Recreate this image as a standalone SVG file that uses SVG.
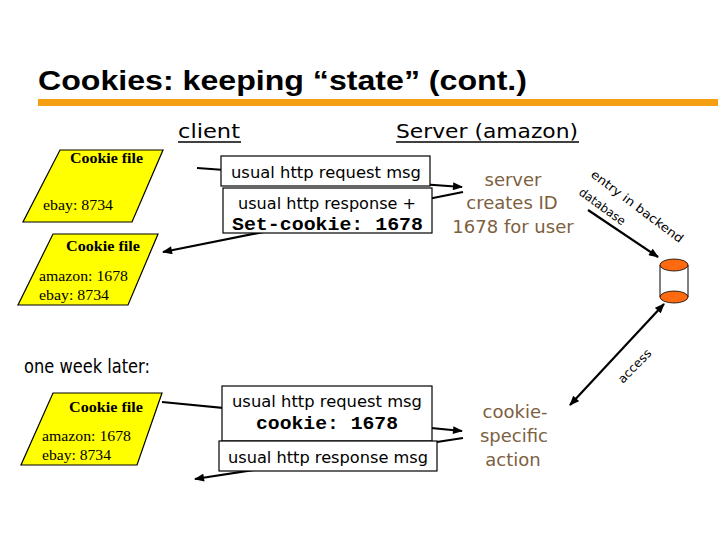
<svg xmlns="http://www.w3.org/2000/svg" width="720" height="540" viewBox="0 0 720 540">
<defs>
<style>
.cf{fill:#ffff00;stroke:#000;stroke-width:1.2}
.cft{font-family:"Liberation Serif",serif;font-weight:bold;font-size:15px}
.cfv{font-family:"Liberation Serif",serif;font-size:15px}
.box{fill:#fff;stroke:#000;stroke-width:1.2}
.bt{font-family:"DejaVu Sans","Noto Sans",sans-serif;font-size:15px;fill:#000}
.mono{font-family:"Liberation Mono",monospace;font-weight:bold;font-size:18px;fill:#000}
.srv{font-family:"DejaVu Sans","Noto Sans",sans-serif;font-size:18px;fill:#7d6040;text-anchor:middle}
.hd{font-family:"DejaVu Sans","Noto Sans",sans-serif;font-size:20px;fill:#000}
.sm{font-family:"DejaVu Sans","Noto Sans",sans-serif;font-size:12px;fill:#000}
.ln{stroke:#000;stroke-width:2.2;fill:none}
</style>
<marker id="ah" viewBox="0 0 10 8" refX="9" refY="4" markerWidth="11" markerHeight="8" markerUnits="userSpaceOnUse" orient="auto-start-reverse">
<path d="M0,0 L10,4 L0,8 z" fill="#000"/>
</marker>
</defs>
<rect width="720" height="540" fill="#fff"/>

<g id="title">
<text x="38" y="90" font-family="Liberation Sans, sans-serif" font-weight="bold" font-size="27" textLength="489" lengthAdjust="spacingAndGlyphs">Cookies: keeping “state” (cont.)</text>
<rect x="38" y="99" width="680" height="7" fill="#f4a012"/>
</g>

<g id="headers">
<text class="hd" x="178" y="138" textLength="62" lengthAdjust="spacingAndGlyphs">client</text>
<line x1="178" y1="142" x2="241" y2="142" stroke="#000" stroke-width="1.5"/>
<text class="hd" x="396" y="138" textLength="182" lengthAdjust="spacingAndGlyphs">Server (amazon)</text>
<line x1="396" y1="142" x2="579" y2="142" stroke="#000" stroke-width="1.5"/>
<text class="hd" x="24" y="373" font-size="17" textLength="126" lengthAdjust="spacingAndGlyphs">one week later:</text>
</g>

<g id="connectors">
<line class="ln" x1="197" y1="168" x2="462" y2="187" marker-end="url(#ah)"/>
<line class="ln" x1="463" y1="192" x2="163" y2="252" marker-end="url(#ah)"/>
<line class="ln" x1="162" y1="402" x2="462" y2="431" marker-end="url(#ah)"/>
<line class="ln" x1="463" y1="438" x2="195" y2="479" marker-end="url(#ah)"/>
<line class="ln" x1="588" y1="210" x2="658" y2="257" marker-end="url(#ah)"/>
<line class="ln" x1="570" y1="405" x2="664" y2="304" marker-start="url(#ah)" marker-end="url(#ah)"/>
</g>

<g id="cookiefile1">
<polygon class="cf" points="60,150 163,150 132,222 23,222"/>
<text class="cft" x="70" y="163" textLength="73" lengthAdjust="spacingAndGlyphs">Cookie file</text>
<text class="cfv" x="43" y="210" textLength="70" lengthAdjust="spacingAndGlyphs">ebay: 8734</text>
</g>

<g id="cookiefile2">
<polygon class="cf" points="53,234 158,234 128,305 18,305"/>
<text class="cft" x="66" y="251" textLength="74" lengthAdjust="spacingAndGlyphs">Cookie file</text>
<text class="cfv" x="39" y="281" textLength="89" lengthAdjust="spacingAndGlyphs">amazon: 1678</text>
<text class="cfv" x="39" y="300" textLength="70" lengthAdjust="spacingAndGlyphs">ebay: 8734</text>
</g>

<g id="cookiefile3">
<polygon class="cf" points="53,393 162,393 137,465 21,465"/>
<text class="cft" x="69" y="412" textLength="74" lengthAdjust="spacingAndGlyphs">Cookie file</text>
<text class="cfv" x="42" y="441" textLength="89" lengthAdjust="spacingAndGlyphs">amazon: 1678</text>
<text class="cfv" x="42" y="460" textLength="69" lengthAdjust="spacingAndGlyphs">ebay: 8734</text>
</g>

<g id="request1">
<rect class="box" x="221" y="156" width="209" height="30"/>
<text class="bt" x="231" y="178" textLength="190" lengthAdjust="spacingAndGlyphs">usual http request msg</text>
</g>

<g id="response1">
<rect class="box" x="223" y="188" width="209" height="45"/>
<text class="bt" x="238" y="209" textLength="178" lengthAdjust="spacingAndGlyphs">usual http response +</text>
<text class="mono" x="232" y="230" textLength="191" lengthAdjust="spacingAndGlyphs">Set-cookie: 1678</text>
</g>

<g id="request2">
<rect class="box" x="222" y="386" width="210" height="55"/>
<text class="bt" x="232" y="407" textLength="190" lengthAdjust="spacingAndGlyphs">usual http request msg</text>
<text class="mono" x="256" y="429" textLength="142" lengthAdjust="spacingAndGlyphs">cookie: 1678</text>
</g>

<g id="response2">
<rect class="box" x="219" y="441" width="218" height="30"/>
<text class="bt" x="228" y="463" textLength="200" lengthAdjust="spacingAndGlyphs">usual http response msg</text>
</g>

<g id="server-action1">
<text class="srv" x="513" y="186">server</text>
<text class="srv" x="512" y="209">creates ID</text>
<text class="srv" x="513" y="233">1678 for user</text>
</g>

<g id="server-action2">
<text class="srv" x="515" y="418">cookie-</text>
<text class="srv" x="514" y="442">specific</text>
<text class="srv" x="513" y="466">action</text>
</g>

<g id="database">
<rect x="660" y="265" width="28" height="32" fill="#fff"/>
<line x1="660" y1="265" x2="660" y2="297" stroke="#000" stroke-width="1"/>
<line x1="688" y1="265" x2="688" y2="297" stroke="#000" stroke-width="1"/>
<ellipse cx="674" cy="297" rx="14" ry="6" fill="#ff6a10" stroke="#000" stroke-width="0.8"/>
<ellipse cx="674" cy="265" rx="14" ry="6" fill="#ff6a10" stroke="#000" stroke-width="0.8"/>
</g>

<g id="db-labels">
<text class="sm" font-size="13" x="590" y="176" transform="rotate(37 590 176)" textLength="112" lengthAdjust="spacingAndGlyphs">entry in backend</text>
<text class="sm" font-size="13" x="578" y="194" transform="rotate(36 578 194)" textLength="54" lengthAdjust="spacingAndGlyphs">database</text>
<text class="sm" x="623" y="384" transform="rotate(-46 623 384)" textLength="42" lengthAdjust="spacingAndGlyphs">access</text>
</g>
</svg>
